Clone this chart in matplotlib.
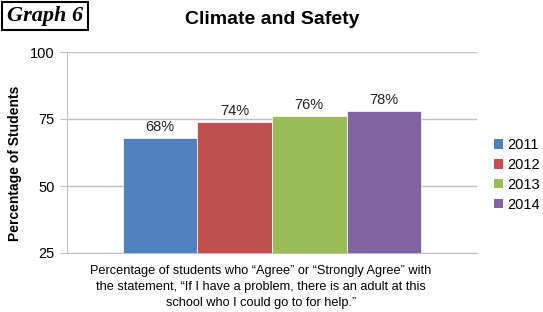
import matplotlib
matplotlib.use("Agg")
import matplotlib.pyplot as plt
from matplotlib.patches import Patch

years = ["2011", "2012", "2013", "2014"]
values = [68, 74, 76, 78]
labels = ["68%", "74%", "76%", "78%"]
colors = ["#4F81BD", "#C0504D", "#9BBB59", "#8064A2"]
yticks = [25, 50, 75, 100]
category = ("Percentage of students who \u201cAgree\u201d or \u201cStrongly Agree\u201d with\n"
            "the statement, \u201cIf I have a problem, there is an adult at this\n"
            "school who I could go to for help.\u201d")

plt.rcParams['font.family'] = ['Liberation Sans', 'DejaVu Sans']

fig = plt.figure(figsize=(5.43, 3.12), dpi=100)
ax = fig.add_axes([67/543, 1-253/312, 410/543, 201/312])

group_w = 0.727
bw = group_w / len(values)
start = -group_w/2 + bw/2
for i, (v, c, l) in enumerate(zip(values, colors, labels)):
    x = start + i*bw
    ax.bar(x, v - 25, bottom=25, width=bw, color=c, edgecolor='white', linewidth=0.5, zorder=3)
    ax.text(x, v + 1.5, l, ha='center', va='bottom', fontsize=10.5, color='#222222', zorder=4)

ax.set_xlim(-0.5, 0.5)
ax.set_ylim(25, 100)
ax.set_yticks(yticks)
ax.set_yticklabels([str(t) for t in yticks], fontsize=10.5)
ax.yaxis.grid(True, color='#BFBFBF', linewidth=1, zorder=0)
ax.set_xticks([])
fig.text(261/543, 1-265/312, category, ha='center', va='top', fontsize=9.2,
         linespacing=1.42)
for s in ['top', 'right']:
    ax.spines[s].set_visible(False)
ax.spines['left'].set_color('#BFBFBF')
ax.spines['bottom'].set_color('#BFBFBF')
ax.tick_params(axis='y', length=5, color='#BFBFBF', pad=4)

fig.text(15/543, 1-163/312, "Percentage of Students", rotation=90, ha='center', va='center',
         fontsize=10, fontweight='bold')

fig.text(272/543, 1-20/312, "Climate and Safety", ha='center', va='center', fontsize=14, fontweight='bold')
fig.text(45/543, 1-16/312, "Graph 6", ha='center', va='center', fontsize=16, fontweight='bold',
         fontstyle='italic', family=['Liberation Serif'],
         bbox=dict(boxstyle='square,pad=0.2', facecolor='white', edgecolor='black', linewidth=1.5))

handles = [Patch(facecolor=c, edgecolor='none') for c in colors]
fig.legend(handles, years, loc='center left', bbox_to_anchor=(494/543, 1-175/312), frameon=False,
           fontsize=10.5, handlelength=0.6, handleheight=0.6, handletextpad=0.3, labelspacing=0.4,
           borderpad=0, borderaxespad=0)

fig.savefig("out.png", dpi=100)
